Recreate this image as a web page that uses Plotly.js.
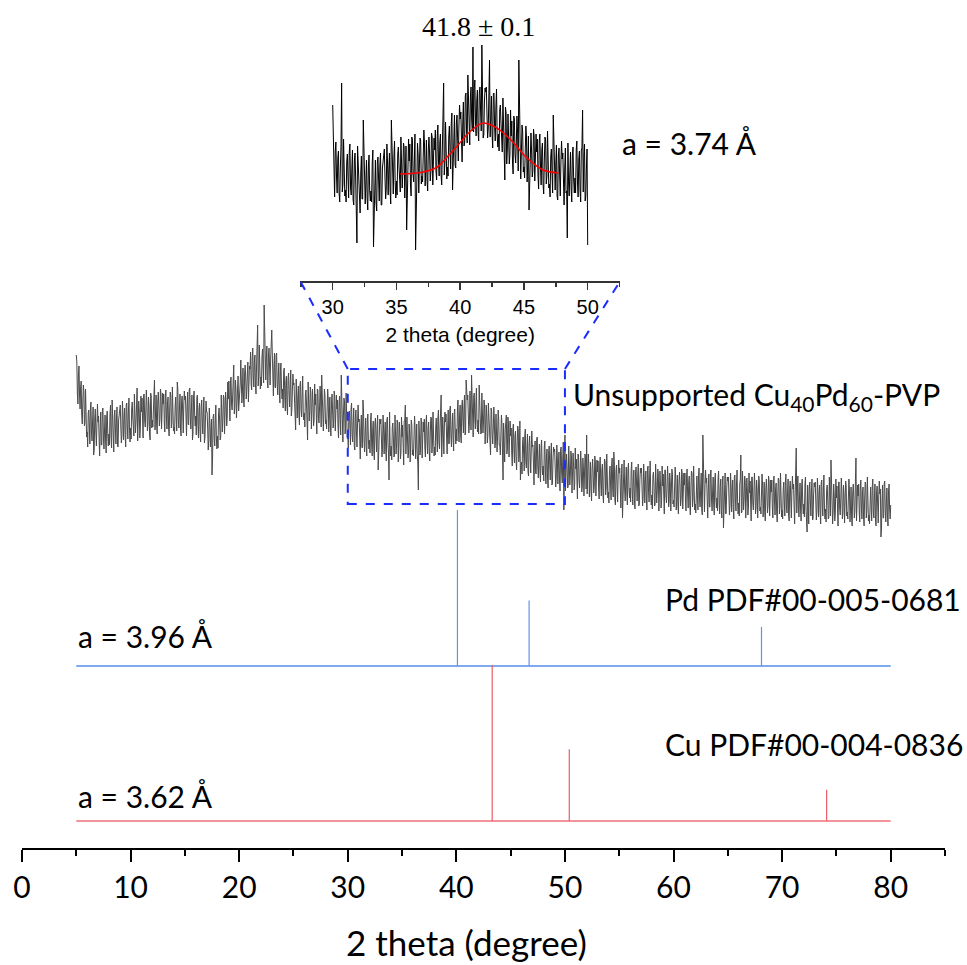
<!DOCTYPE html>
<html><head><meta charset="utf-8">
<script src="https://cdn.plot.ly/plotly-3.0.1.min.js"></script>
<style>html,body{margin:0;padding:0;background:#fff}#chart{width:967px;height:965px}</style>
</head><body><div id="chart"></div>
<script>
// ---------------- DATA ----------------
// Unsupported Cu40Pd60-PVP XRD pattern, 2theta 5 -> 80 deg, step 0.05 (a.u.)
const sampleStart = 5.0, sampleStep = 0.05;
const sampleIntensity = [
185,178,146,136,166,174,144,131,153,159,125,116,138,155,148,114,118,151,124,103,
108,93,127,130,115,96,132,138,106,99,119,133,85,91,122,131,108,94,116,136,
118,124,102,84,112,128,95,95,129,132,102,91,110,125,99,87,123,129,105,94,
106,95,125,135,102,92,140,127,96,88,124,130,112,96,122,133,94,93,120,129,
128,135,113,97,105,139,124,100,120,132,104,93,135,137,112,101,129,142,110,98,
112,101,131,138,123,104,104,146,131,107,118,141,152,99,113,139,129,102,112,144,
128,142,111,102,145,146,119,113,128,150,137,109,116,143,134,105,100,147,144,112,
120,113,135,153,160,110,124,145,115,106,138,148,134,114,121,151,146,111,129,147,
136,146,119,108,143,150,124,111,137,143,112,104,130,148,144,112,118,153,127,109,
113,106,133,143,123,109,158,151,118,112,132,146,110,104,139,144,127,107,136,149,
140,144,124,104,134,148,116,115,150,152,123,111,131,145,100,107,143,149,125,114,
124,105,142,145,116,102,131,137,107,98,133,140,119,106,128,143,97,103,122,139,
128,128,111,90,100,132,117,93,110,121,65,82,123,126,102,94,120,135,102,91,
104,92,126,132,119,100,103,145,131,108,121,145,142,106,120,148,138,114,123,158,
141,159,125,119,159,163,135,130,144,167,175,126,133,160,152,122,145,164,164,129,
140,140,157,180,165,137,149,172,141,133,166,175,163,141,152,178,178,138,163,174,
171,188,156,150,181,192,164,153,178,185,155,146,174,190,215,154,165,195,176,151,
163,154,183,191,172,157,235,199,166,160,180,194,157,152,186,192,173,155,182,197,
210,186,164,144,173,187,153,152,185,187,157,145,163,177,149,137,171,177,152,141,
151,132,169,172,143,129,158,164,134,125,161,167,146,133,155,170,124,130,149,166,
155,157,139,119,110,161,148,122,142,154,125,115,155,159,131,123,146,164,127,120,
127,113,146,150,136,116,100,158,143,119,129,153,147,111,123,151,137,114,120,156,
135,146,118,106,151,150,124,117,132,154,141,113,165,147,136,109,127,151,145,116,
120,111,135,151,141,108,123,143,113,104,136,146,131,112,118,149,142,109,125,145,
131,140,114,102,138,144,119,105,165,137,107,98,124,142,138,106,112,147,121,103,
106,92,125,129,113,95,131,137,105,98,118,132,94,90,122,130,108,93,116,135,
118,121,102,81,111,125,93,92,140,129,99,88,107,122,94,84,118,126,99,91,
100,87,119,127,95,84,111,119,88,80,116,122,103,88,113,125,70,85,110,121,
116,121,101,83,92,125,111,86,106,118,90,79,120,123,97,87,60,128,94,84,
94,80,113,117,103,83,84,125,110,86,97,120,115,78,90,118,105,81,88,123,
103,115,86,75,119,119,135,86,101,123,110,82,88,116,106,78,97,120,115,85,
90,84,105,124,112,81,95,116,86,77,50,119,105,85,92,122,118,82,101,118,
108,121,92,83,117,125,99,86,112,118,89,79,107,123,122,87,97,128,107,84,
93,85,113,122,103,88,122,130,97,91,112,125,145,83,118,123,106,86,115,128,
118,126,103,86,113,130,96,97,131,134,104,93,113,127,102,89,126,131,109,96,
111,99,131,140,108,98,126,135,104,97,133,140,121,107,132,145,105,107,160,144,
140,145,125,107,116,149,135,110,165,142,114,103,144,147,121,111,137,152,118,108,
120,106,155,142,127,106,107,147,132,107,118,140,134,96,109,135,123,97,104,137,
118,125,100,85,132,129,105,96,112,133,120,92,97,126,114,88,104,130,121,95,
95,85,109,125,116,82,60,117,87,78,110,120,125,86,91,123,116,83,98,119,
104,112,87,74,110,116,92,77,104,109,79,70,96,114,110,78,84,119,60,75,
78,66,97,103,86,69,104,111,78,72,92,106,68,64,96,104,83,67,91,109,
93,95,76,55,86,99,67,66,101,103,73,62,81,96,68,58,92,100,73,65,
74,59,93,99,68,56,84,91,61,52,88,94,75,60,85,97,55,57,81,93,
88,91,73,53,63,95,82,56,77,88,60,49,90,93,67,57,82,98,30,54,
105,49,83,86,73,52,54,94,79,55,66,89,83,47,59,87,73,50,56,92,
71,81,54,41,86,85,60,52,68,89,76,48,54,82,72,44,62,86,80,51,
105,46,70,86,76,43,58,78,49,39,71,81,67,47,54,84,78,44,61,80,
68,79,52,41,76,83,57,44,70,76,46,37,64,81,78,45,52,86,62,42,
48,37,68,74,56,40,75,82,50,43,88,77,40,35,69,75,55,38,64,80,
67,72,51,32,61,76,22,43,77,80,50,39,58,73,46,35,70,77,52,42,
52,38,71,78,47,35,62,70,39,31,67,73,54,39,63,76,34,36,60,72,
67,72,52,34,43,76,62,37,57,69,41,30,71,74,48,38,64,79,45,35,
45,31,64,68,55,34,35,76,61,37,48,71,66,29,41,69,56,32,39,74,
54,66,37,26,70,70,44,37,52,74,61,33,39,67,57,29,48,71,66,36,
40,33,55,73,62,30,44,65,35,26,58,68,54,34,41,71,66,31,49,67,
55,67,39,29,63,71,45,32,58,64,34,25,52,69,67,33,41,74,51,30,
36,27,56,64,45,30,64,72,39,33,53,67,30,25,105,65,46,28,55,70,
57,62,41,22,51,66,33,33,67,70,40,29,48,63,36,25,60,67,42,32,
42,29,61,69,37,26,53,61,30,22,58,64,12,30,55,67,26,27,52,63,
59,63,44,25,35,67,54,28,49,60,33,21,63,65,40,29,56,70,37,26,
37,24,56,61,85,27,28,69,54,30,41,64,59,22,35,62,50,25,33,67,
47,59,30,19,63,63,37,30,45,67,54,26,32,60,50,22,41,64,59,29,
33,26,48,66,55,23,37,58,28,19,51,61,47,27,34,64,59,24,42,60,
48,60,32,22,56,64,38,25,51,57,27,18,45,62,60,26,34,67,44,23,
30,21,50,58,39,24,58,66,33,27,47,61,24,19,53,59,40,22,49,64,
51,56,35,16,45,60,92,27,61,64,34,23,42,57,30,19,54,61,36,26,
36,23,55,63,31,20,8,55,24,16,52,58,39,24,49,61,20,21,46,57,
53,58,38,20,29,62,48,23,43,55,27,16,57,60,34,24,50,65,31,21,
31,18,50,55,41,21,22,63,48,24,80,58,53,16,29,56,44,19,27,61,
42,54,25,14,58,58,32,25,40,62,49,21,27,55,45,17,36,59,54,24,
28,21,43,61,50,18,32,53,23,14,46,56,42,22,29,59,82,19,37,55,
44,56,28,18,52,60,34,21,47,53,23,14,41,58,56,22,30,63,40,19,
25,16,45,53,34,19,53,61,28,22,42,56,19,14,48,54,35,17,44,59,
46,51,3,11,40,55,22,22,56,59,29,18,37,52,25,14,49,56,31,21,
35];

// Inset: 30-50 deg region (background removed), step 0.05 (a.u.)
const insetStart = 30.0, insetStep = 0.05;
const insetIntensity = [
145,103,66,53,99,108,73,57,92,99,57,48,82,105,167,58,66,111,80,54,
60,48,88,96,72,52,98,106,62,55,82,100,50,45,89,97,71,49,7,104,
87,89,64,37,77,94,51,51,130,99,59,46,69,90,52,40,84,95,59,49,
59,48,87,100,3,44,78,90,47,39,87,93,70,49,85,97,45,45,82,92,
93,101,73,51,61,106,88,55,81,97,60,46,130,103,71,56,93,109,67,52,
69,55,96,103,84,59,58,113,95,62,77,107,103,52,70,104,20,56,68,111,
89,106,65,54,113,111,76,68,87,116,0,63,70,107,95,57,84,112,109,66,
74,68,95,120,106,64,81,110,69,59,101,113,96,69,78,117,113,65,91,112,
100,120,79,70,114,125,88,74,108,116,75,65,101,122,167,75,87,128,102,71,
83,74,113,124,99,81,127,137,60,88,115,135,85,82,127,135,111,89,125,145,
131,138,111,88,128,148,104,107,154,157,118,107,175,153,118,105,153,163,131,119,
203,118,161,170,127,114,150,160,118,109,157,163,139,119,205,167,112,115,148,162,
158,163,136,112,122,166,190,113,139,154,116,102,156,157,123,109,144,161,115,103,
116,99,140,145,127,100,98,152,133,99,70,143,137,86,101,136,120,86,95,140,
114,129,89,76,134,131,96,87,106,134,118,79,190,122,109,71,96,125,119,78,
83,72,103,124,113,68,87,114,40,63,105,117,99,73,79,121,114,69,90,116,
98,111,75,61,109,116,82,65,100,107,66,56,90,113,110,66,74,119,87,62,
66,53,93,101,78,57,135,111,68,60,87,105,54,50,94,102,75,54,88,109,
91,97,69,45,83,102,57,59,12,107,67,54,78,98,62,48,95,103,70,57,
72,57,100,109,67,53,91,99,60,48,100,102,140,58,93,106,49,54,82,101,
5];

// Gaussian fit of the inset peak (centre 41.8 deg)
const fitTheta     = [35.3,37.1,38.2,38.9,39.7,40.5,41.2,41.8,42.6,43.4,44.2,45.0,45.7,46.5,47.7];
const fitIntensity = [76,78,83,92,103,115,123,127,124,117,107,95,87,80,77];

// Reference patterns (relative intensity, %)
const pdTheta = [40.1, 46.7, 68.1];
const pdRel   = [100, 42, 25];
const cuTheta = [43.3, 50.4, 74.1];
const cuRel   = [100, 46, 20];
const refSpan = [5, 80];

const xTickVals = [0,10,20,30,40,50,60,70,80];
const insetTickVals = [30,35,40,45,50];

// ---------------- LAYOUT GEOMETRY ----------------
const W = 967, H = 965, M = {l:22, r:22, t:0, b:117};
const plotW = W - M.l - M.r, plotH = H - M.t - M.b;
const xRange = [0, 85];
const yRange = [0, plotH];
const insetXRange = [27.45, 52.55];
const insetDomX = [(300.2 - M.l)/plotW, (620.2 - M.l)/plotW];
const insetAxisPy = 281;
const insetDomY = [(plotH - insetAxisPy)/plotH, 1];
const insetYRange = [0, insetAxisPy];

const sampleOffset = 308, insetOffset = 31, pdOffset = 182, cuOffset = 27, stickScale = 1.56;

const px2paperX = px => (px - M.l)/plotW;
const py2paperY = py => (plotH - (py - M.t))/plotH;
const py2y = py => plotH - (py - M.t);
function x2ToX(v){
  const f = insetDomX[0] + (v - insetXRange[0])/(insetXRange[1]-insetXRange[0])*(insetDomX[1]-insetDomX[0]);
  return xRange[0] + f*(xRange[1]-xRange[0]);
}
function y2ToY(v){
  const f = insetDomY[0] + (v - insetYRange[0])/(insetYRange[1]-insetYRange[0])*(insetDomY[1]-insetDomY[0]);
  return yRange[0] + f*(yRange[1]-yRange[0]);
}

// ---------------- TRACES ----------------
const sampleX = sampleIntensity.map((_, i) => +(sampleStart + i*sampleStep).toFixed(2));
const insetX = insetIntensity.map((_, i) => +(insetStart + i*insetStep).toFixed(2));

function sticks(theta, rel, base){
  const xs = [], ys = [];
  theta.forEach((t, i) => { xs.push(t, t, null); ys.push(base, base + rel[i]*stickScale, null); });
  return {x: xs, y: ys};
}
const pdS = sticks(pdTheta, pdRel, pdOffset);
const cuS = sticks(cuTheta, cuRel, cuOffset);
const pdColor = '#5f95e8', cuColor = '#ec5c67';

const traces = [
  {x: sampleX, y: sampleIntensity.map(v => v + sampleOffset), mode:'lines', line:{color:'#4a4a4a', width:1}, hoverinfo:'skip'},
  {x: refSpan, y: [pdOffset, pdOffset], mode:'lines', line:{color:'#7eaaf0', width:2}},
  {x: pdS.x, y: pdS.y, mode:'lines', line:{color:pdColor, width:1.2}},
  {x: refSpan, y: [cuOffset, cuOffset], mode:'lines', line:{color:'#ee7078', width:1.5}},
  {x: cuS.x, y: cuS.y, mode:'lines', line:{color:cuColor, width:1.2}},
  {x: insetX, y: insetIntensity.map(v => v + insetOffset), xaxis:'x2', yaxis:'y2', mode:'lines', line:{color:'#000', width:1}},
  {x: fitTheta, y: fitIntensity.map(v => v + insetOffset), xaxis:'x2', yaxis:'y2', mode:'lines', line:{color:'#ff0000', width:1.5, shape:'spline'}}
];

const calibri = 'Lato, "Open Sans", sans-serif';
const dashBlue = {color:'#1a2cff', width:2, dash:'dash'};
const boxTop = py2y(369), boxBot = py2y(504);

const layout = {
  width: W, height: H, margin: M, showlegend: false,
  paper_bgcolor:'#fff', plot_bgcolor:'#fff',
  xaxis: {
    range: xRange, domain:[0,1], anchor:'y', showgrid:false, zeroline:false,
    showline:true, linecolor:'#000', linewidth:2,
    ticks:'outside', ticklen:12, tickwidth:2, tickcolor:'#000',
    tickvals: xTickVals, ticktext: xTickVals.map(String),
    minor:{dtick:5, tick0:0, ticks:'outside', ticklen:6, tickwidth:2, tickcolor:'#000'},
    tickfont:{family:calibri, size:30, color:'#000'},
    automargin:false
  },
  yaxis: {range: yRange, domain:[0,1], visible:false, fixedrange:true},
  xaxis2: {
    range: insetXRange, domain: insetDomX, anchor:'y2', showgrid:false, zeroline:false,
    showline:true, linecolor:'#333', linewidth:1.5,
    ticks:'outside', ticklen:7, tickwidth:1.5, tickcolor:'#333',
    tickvals: insetTickVals, ticktext: insetTickVals.map(String),
    minor:{dtick:2.5, tick0:0, ticks:'outside', ticklen:4, tickwidth:1.5, tickcolor:'#333'},
    tickfont:{family:'"Liberation Sans", Arial, sans-serif', size:20, color:'#000'},
    title:{text:'2 theta (degree)', font:{family:'"Liberation Sans", Arial, sans-serif', size:21, color:'#000'}, standoff:11},
    automargin:false
  },
  yaxis2: {range: insetYRange, domain: insetDomY, anchor:'x2', visible:false},
  shapes: [
    {type:'rect', xref:'x', yref:'y', x0:30, x1:50, y0:boxBot, y1:boxTop, line:dashBlue},
    {type:'line', xref:'x', yref:'y', x0:30, y0:boxTop, x1:x2ToX(insetXRange[0]), y1:y2ToY(0), line:dashBlue},
    {type:'line', xref:'x', yref:'y', x0:50, y0:boxTop, x1:x2ToX(insetXRange[1]), y1:y2ToY(0), line:dashBlue}
  ],
  annotations: [
    {text:'2 theta (degree)', xref:'paper', yref:'paper', x:px2paperX(466), y:py2paperY(964), xanchor:'center', yanchor:'bottom', showarrow:false, borderpad:0, font:{family:calibri, size:35, color:'#000'}},
    {text:'41.8 ± 0.1', xref:'paper', yref:'paper', x:px2paperX(478), y:py2paperY(27), xanchor:'center', yanchor:'middle', showarrow:false, font:{family:'"Liberation Serif", "Times New Roman", serif', size:28, color:'#000'}},
    {text:'a = 3.74 Å', xref:'paper', yref:'paper', x:px2paperX(620), y:py2paperY(143), xanchor:'left', yanchor:'middle', showarrow:false, font:{family:calibri, size:30, color:'#000'}},
    {text:'Unsupported Cu<sub>40</sub>Pd<sub>60</sub>-PVP', xref:'paper', yref:'paper', x:px2paperX(571), y:py2paperY(396), xanchor:'left', yanchor:'middle', showarrow:false, font:{family:calibri, size:30, color:'#000'}},
    {text:'Pd PDF#00-005-0681', xref:'paper', yref:'paper', x:px2paperX(663), y:py2paperY(599), xanchor:'left', yanchor:'middle', showarrow:false, font:{family:calibri, size:30, color:'#000'}},
    {text:'a = 3.96 Å', xref:'paper', yref:'paper', x:px2paperX(76), y:py2paperY(636), xanchor:'left', yanchor:'middle', showarrow:false, font:{family:calibri, size:30, color:'#000'}},
    {text:'Cu PDF#00-004-0836', xref:'paper', yref:'paper', x:px2paperX(663), y:py2paperY(744), xanchor:'left', yanchor:'middle', showarrow:false, font:{family:calibri, size:30, color:'#000'}},
    {text:'a = 3.62 Å', xref:'paper', yref:'paper', x:px2paperX(76), y:py2paperY(796), xanchor:'left', yanchor:'middle', showarrow:false, font:{family:calibri, size:30, color:'#000'}}
  ]
};

Plotly.newPlot('chart', traces, layout, {staticPlot:true, displayModeBar:false});
</script></body></html>
